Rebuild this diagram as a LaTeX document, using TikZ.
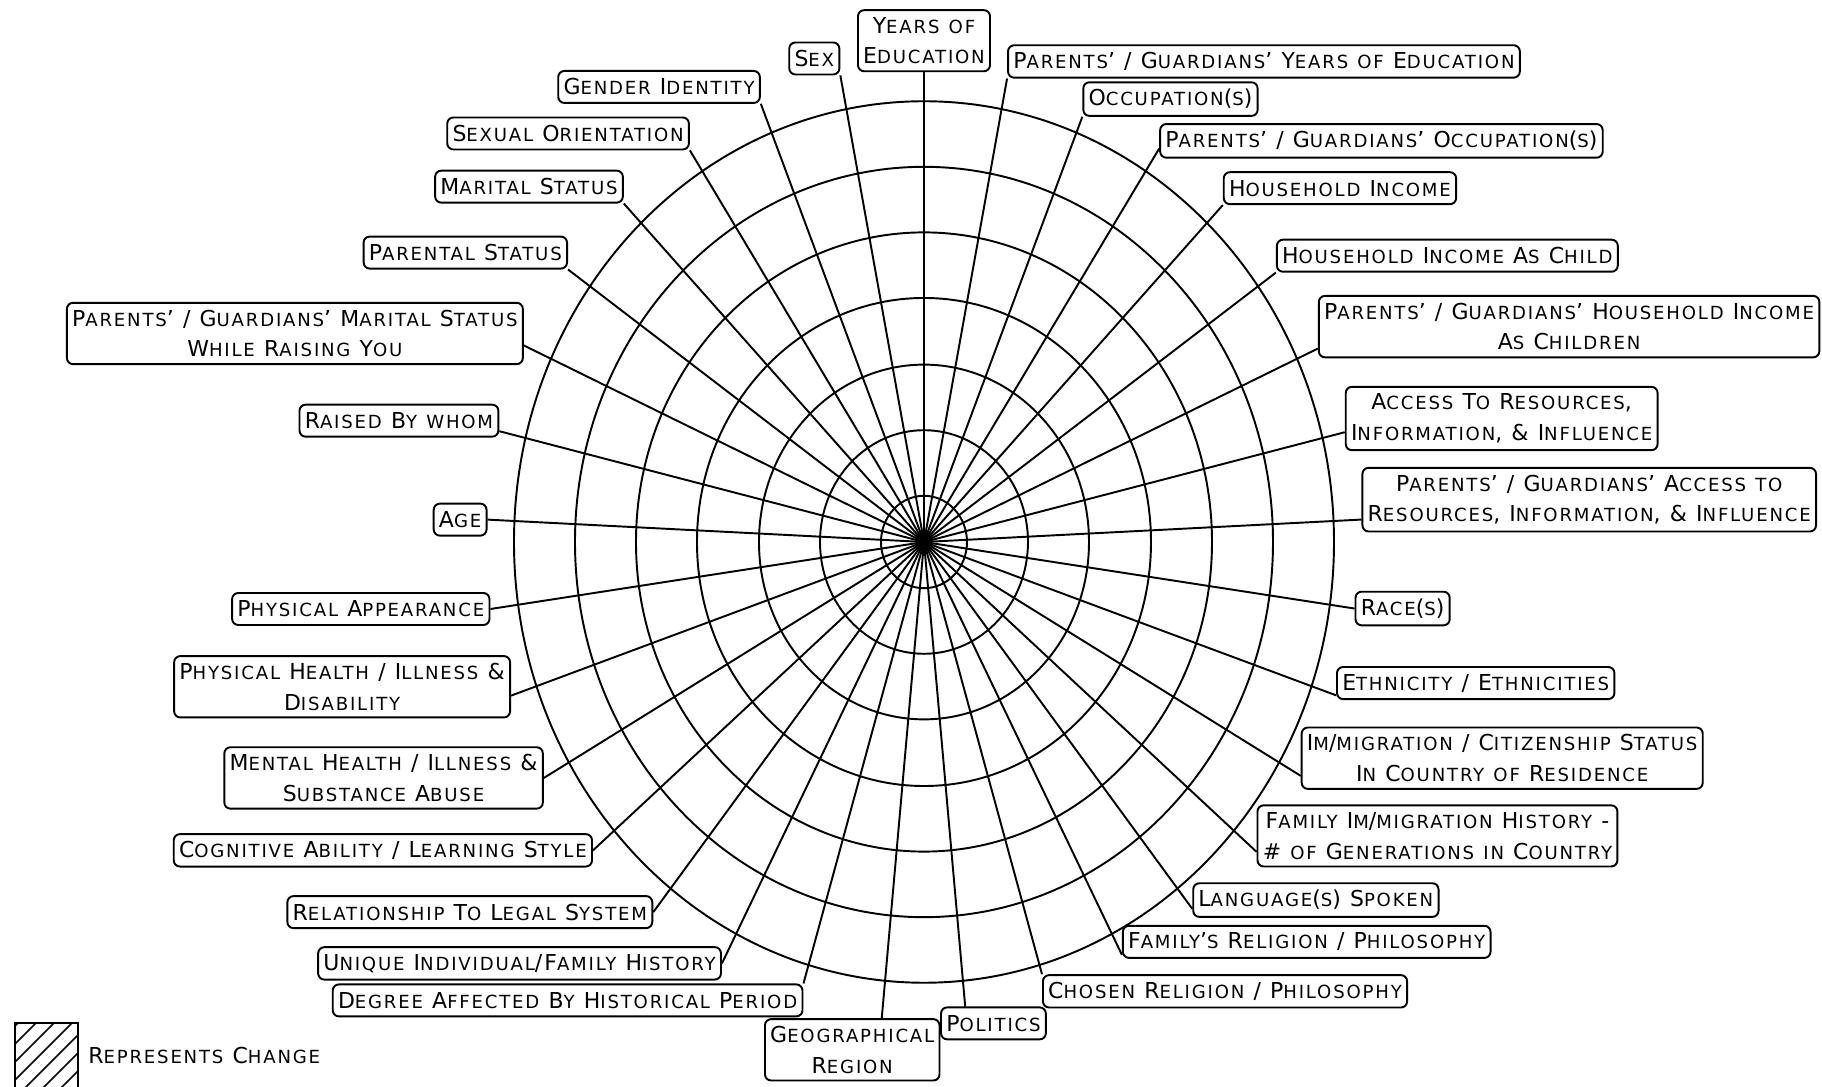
\documentclass[tikz,border=0pt]{standalone}
\usepackage{fontspec}
\setmainfont{DejaVu Sans}[LetterSpace=10]
\newcommand\labfont{\fontsize{12.5pt}{17.5pt}\selectfont}
\newcommand\scfont{\fontsize{10.3pt}{17.5pt}\selectfont}

% small caps made by hand: lower case letters set as smaller capitals
\ExplSyntaxOn
\seq_new:N \l__fsc_seq
\tl_new:N \l__fsc_tl
\cs_new_protected:Npn \__fsc_char:N #1
  {
    \token_if_letter:NTF #1
      {
        \int_compare:nNnTF { `#1 } > { 96 }
          { { \scfont \text_uppercase:n {#1} } }
          { #1 }
      }
      { #1 }
  }
\NewDocumentCommand \fsc { m }
  {
    \seq_set_split:Nnn \l__fsc_seq { ~ } {#1}
    \tl_clear:N \l__fsc_tl
    \seq_map_inline:Nn \l__fsc_seq
      {
        \tl_if_empty:NF \l__fsc_tl { \tl_put_right:Nn \l__fsc_tl { ~ } }
        \tl_map_inline:nn {##1} { \tl_put_right:Nn \l__fsc_tl { \__fsc_char:N ####1 } }
      }
    \l__fsc_tl
  }
\ExplSyntaxOff

\begin{document}
\begin{tikzpicture}[
  x=0.02cm, y=0.02cm,
  lab/.style={draw, fill=white, line width=1.1pt, rounded corners=3.5pt, align=center,
    inner xsep=3pt, inner ysep=4pt, minimum height=0.64cm, font=\labfont},
  ring/.style={line width=1.1pt},
  spoke/.style={line width=1.1pt}
]
\useasboundingbox (-924,-545) rectangle (898,542);

\begin{scope}[yscale=1.075]
\coordinate (c) at (0,0);
\foreach \r in {43,104,165,227,288,349,410}
  \draw[ring] (c) circle (\r);

% labels, counter-clockwise from the top
\node[lab, anchor=south] (yearsed) at (90:437) {\fsc{Years of\\Education}};
\node[lab, anchor=south east] (sex) at (100.91:442) {\fsc{Sex}};
\node[lab, anchor=south east] (gender) at (111.82:439) {\fsc{Gender Identity}};
\node[lab, anchor=south east] (orient) at (122.73:433) {\fsc{Sexual Orientation}};
\node[lab, anchor=south east] (marital) at (133.64:435) {\fsc{Marital Status}};
\node[lab, anchor=south east] (parental) at (144.55:437) {\fsc{Parental Status}};
\node[lab, anchor=357] (pgmarital) at (155.45:440) {\fsc{Parents' / Guardians' Marital Status\\While Raising You}};
\node[lab, anchor=354] (raised) at (166.36:437) {\fsc{Raised By whom}};
\node[lab, anchor=east] (age) at (177.27:437) {\fsc{Age}};
\node[lab, anchor=east] (looks) at (188.18:438) {\fsc{Physical Appearance}};
\node[lab, anchor=357] (physical) at (199.09:437) {\fsc{Physical Health / Illness \&\\Disability}};
\node[lab, anchor=east] (mental) at (210:439) {\fsc{Mental Health / Illness \&\\Substance Abuse}};
\node[lab, anchor=east] (learning) at (220.91:438) {\fsc{Cognitive Ability / Learning Style}};
\node[lab, anchor=east] (legal) at (231.82:438) {\fsc{Relationship To Legal System}};
\node[lab, anchor=east] (history) at (242.73:441) {\fsc{Unique Individual/Family History}};
\node[lab, anchor=north east] (period) at (253.64:428) {\fsc{Degree Affected By Historical Period}};
\node[lab, anchor=47] (region) at (264.55:445) {\fsc{Geographical\\Region}};
\node[lab, anchor=149] (politics) at (275.45:434) {\fsc{Politics}};
\node[lab, anchor=north west] (religion) at (286.36:419) {\fsc{Chosen Religion / Philosophy}};
\node[lab, anchor=184] (famreligion) at (297.27:432) {\fsc{Family's Religion / Philosophy}};
\node[lab, anchor=184] (language) at (308.18:434) {\fsc{Language(s) Spoken}};
\node[lab, anchor=185] (generations) at (319.09:440) {\fsc{Family Im/migration History -\\\# of Generations in Country}};
\node[lab, anchor=185] (citizenship) at (330:435) {\fsc{Im/migration / Citizenship Status\\In Country of Residence}};
\node[lab, anchor=185] (ethnicity) at (340.91:436) {\fsc{Ethnicity / Ethnicities}};
\node[lab, anchor=west] (race) at (351.82:435) {\fsc{Race(s)}};
\node[lab, anchor=185] (pgaccess) at (2.73:438) {\fsc{Parents' / Guardians' Access to\\Resources, Information, \& Influence}};
\node[lab, anchor=185] (access) at (13.64:433) {\fsc{Access To Resources,\\Information, \& Influence}};
\node[lab, anchor=185] (pgincome) at (24.55:433) {\fsc{Parents' / Guardians' Household Income\\As Children}};
\node[lab, anchor=south west] (childincome) at (35.45:432) {\fsc{Household Income As Child}};
\node[lab, anchor=south west] (income) at (46.36:433) {\fsc{Household Income}};
\node[lab, anchor=182] (pgoccupation) at (57.27:435) {\fsc{Parents' / Guardians' Occupation(s)}};
\node[lab, anchor=south west] (occupation) at (68.18:426) {\fsc{Occupation(s)}};
\node[lab, anchor=south west] (pgyearsed) at (79.09:439) {\fsc{Parents' / Guardians' Years of Education}};

% spokes
\foreach \n/\a in {yearsed/south, sex/south east, gender/south east, orient/south east,
    marital/south east, parental/south east, pgmarital/357, raised/354, age/east,
    looks/east, physical/357, mental/east, learning/east, legal/east, history/east,
    period/north east, region/47, politics/149, religion/north west, famreligion/184,
    language/184, generations/185, citizenship/185, ethnicity/185, race/west,
    pgaccess/185, access/185, pgincome/185, childincome/south west, income/south west,
    pgoccupation/182, occupation/south west, pgyearsed/south west}
  \draw[spoke] (c) -- (\n.\a);
\end{scope}

% legend
\begin{scope}
\clip (-909,-560) rectangle (-846,-481);
\foreach \i in {0,...,6}
  \draw[line width=0.9pt] (-985+\i*18,-560) -- ++(90,90);
\end{scope}
\draw[line width=1.1pt] (-909,-560) rectangle (-846,-481);
\node[anchor=west, font=\labfont, inner sep=0pt] (legend) at (-836,-514) {\fsc{Represents Change}};
\end{tikzpicture}
\end{document}
